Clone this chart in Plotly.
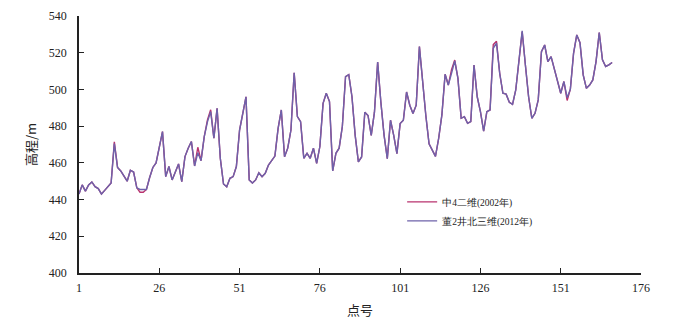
import plotly.graph_objects as go

# Point numbers and elevations (m)
blue_vals = [
    443, 448, 444.6, 448, 449.6, 447, 446, 443, 445, 447,
    449, 470.5, 457.5, 455.6, 453, 450, 456, 455, 446.4, 445.5,
    445.5, 445.5, 452, 457.5, 460, 469, 477, 452.5, 458, 450.7,
    455, 459.4, 449.8, 463.4, 468, 471.6, 458.3, 465.5, 461.2, 474.3,
    482.4, 487.9, 473.4, 489.7, 462.5, 448.5, 447, 451.6, 452.5, 458,
    477.9, 488, 496, 450.7, 449, 450.7, 454.6, 452.5, 454.3, 458.8,
    461.5, 463.7, 478.8, 488.8, 463.3, 468, 477.9, 509.1, 485.2, 482.4,
    462.5, 465.2, 462.5, 468, 459.7, 468.9, 492.4, 497.9, 493.4, 455.6,
    465.2, 468, 479.8, 507, 508, 496, 475, 460.5, 463.2, 487.6,
    485.8, 475, 487.6, 514.9, 493, 475, 462.3, 483.2, 475, 465,
    481.4, 483.2, 498.6, 491.4, 486.9, 491.4, 523.3, 502.4, 485.8, 470.4,
    466.8, 463.5, 473.4, 486.1, 508.3, 502.4, 508.8, 515.5, 506, 484.3,
    485.2, 481.5, 482.5, 513.3, 496, 487.9, 477.3, 487.9, 488.8, 522.4,
    525.2, 508.8, 497.9, 497.4, 493, 491.9, 499.7, 515.2, 531.9, 513.3,
    496, 484.3, 487, 494.3, 520.6, 524.2, 515.2, 517.9, 511.5, 505.2,
    497.9, 504.3, 495.5, 500.1, 519.7, 529.7, 525.5, 507.9, 500.6, 502.4,
    505.2, 515.2, 531, 516.1, 512.5, 513.4, 514.7,
]
# 2002 survey: nearly identical, small deviations at a few points
red_offsets = {12: 1.0, 20: -1.5, 21: -1.5, 38: 3.0, 41: 1.0, 42: 1.0,
               117: 2.0, 118: 0.5, 130: 2.0, 131: 1.0, 153: -1.5, 139: -0.5}
points = list(range(1, len(blue_vals) + 1))
red_vals = [v + red_offsets.get(i, 0.0) for i, v in zip(points, blue_vals)]

x_ticks = [1, 26, 51, 76, 101, 126, 151, 176]
y_ticks = [400, 420, 440, 460, 480, 500, 520, 540]

serif = "Liberation Serif"
cjk = "Noto Sans CJK SC"

fig = go.Figure()
fig.add_trace(go.Scatter(x=points, y=red_vals, mode="lines",
                         name="中4二维(2002年)",
                         line=dict(color="#B8326E", width=1.4)))
fig.add_trace(go.Scatter(x=points, y=blue_vals, mode="lines",
                         name="董2井北三维(2012年)",
                         line=dict(color="#6E62AA", width=1.4)))

# the page adds an 8px body margin, so the figure is sized to fit inside it
fig.update_layout(
    width=679, height=314,
    margin=dict(l=71, r=46, t=8, b=49, autoexpand=False),
    paper_bgcolor="white", plot_bgcolor="white",
    showlegend=True,
    legend=dict(x=0.575, y=0.333, xanchor="left", yanchor="top",
                font=dict(family=serif, size=9.5, color="#222"),
                bgcolor="rgba(0,0,0,0)", itemwidth=30,
                tracegroupgap=0),
    font=dict(family=serif, color="#222"),
)
fig.update_xaxes(
    range=[1, 176], tickvals=x_ticks, ticktext=[str(t) for t in x_ticks],
    ticks="inside", ticklen=5, tickwidth=1, tickcolor="#222",
    showline=True, linecolor="#222", linewidth=2, showgrid=False,
    zeroline=False, tickfont=dict(family=serif, size=12, color="#222"),
    ticklabelstandoff=3, automargin=False,
    title=dict(text="点号", font=dict(family=cjk, size=13, color="#222"),
               standoff=11),
)
fig.update_yaxes(
    range=[400, 540], tickvals=y_ticks,
    ticks="inside", ticklen=5, tickwidth=1, tickcolor="#222",
    showline=True, linecolor="#222", linewidth=1.5, showgrid=False,
    zeroline=False, tickfont=dict(family=serif, size=12, color="#222"),
    ticklabelstandoff=8, automargin=False,
    title=dict(text="高程/m", font=dict(family=cjk, size=13, color="#222"),
               standoff=9),
)

fig.write_html("out.html")
